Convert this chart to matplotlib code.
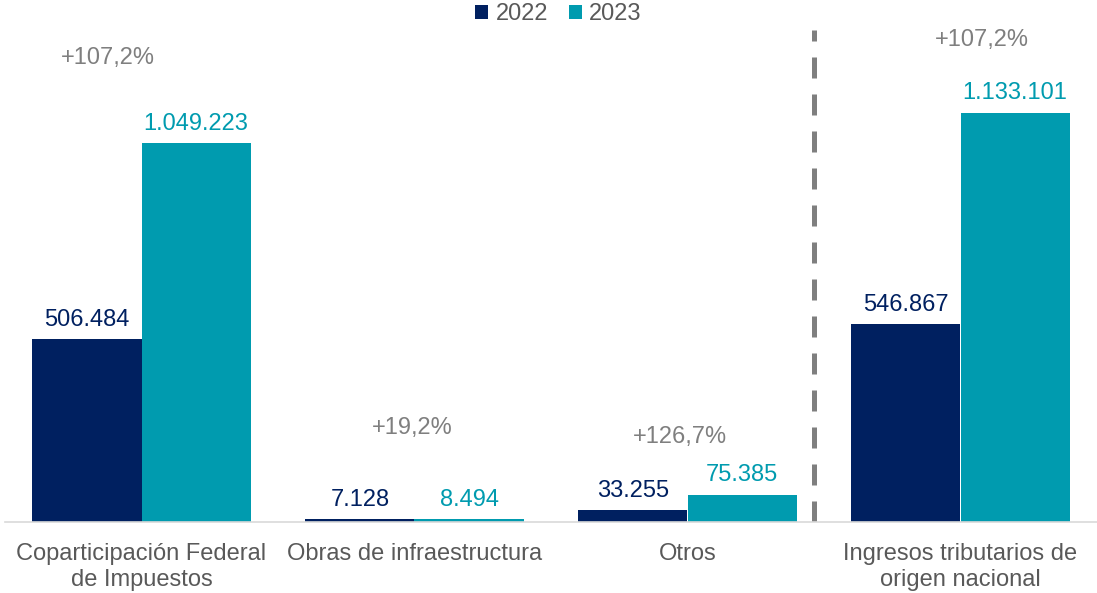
import numpy as np
import matplotlib.pyplot as plt

plt.rcParams['font.family'] = ['Liberation Sans', 'DejaVu Sans']

categories = ["Coparticipación Federal\nde Impuestos", "Obras de infraestructura",
              "Otros", "Ingresos tributarios de\norigen nacional"]
v2022 = [506484, 7128, 33255, 546867]
v2023 = [1049223, 8494, 75385, 1133101]
labels2022 = ["506.484", "7.128", "33.255", "546.867"]
labels2023 = ["1.049.223", "8.494", "75.385", "1.133.101"]
variations = ["+107,2%", "+19,2%", "+126,7%", "+107,2%"]

# where the variation labels sit (x offset from group centre, y in data units)
var_dx = [-0.125, -0.01, -0.026, 0.08]
var_y = [1284000, 260000, 235000, 1334000]

navy = "#002060"
teal = "#009BAF"
grey = "#7F7F7F"

fig = plt.figure(figsize=(10.97, 5.93), dpi=100)
ax = fig.add_axes([5 / 1097, 71 / 593, 1092 / 1097, 522 / 593])

x = np.arange(len(categories))
w = 0.4
b1 = ax.bar(x - w / 2, v2022, w, color=navy, label="2022")
b2 = ax.bar(x + w / 2, v2023, w, color=teal, label="2023")

for xi, v, t in zip(x, v2022, labels2022):
    ax.annotate(t, (xi - w / 2, v), xytext=(0, 6), textcoords="offset points",
                ha="center", va="bottom", fontsize=17, color=navy)
for xi, v, t in zip(x, v2023, labels2023):
    ax.annotate(t, (xi + w / 2, v), xytext=(0, 6), textcoords="offset points",
                ha="center", va="bottom", fontsize=17, color=teal)
for xi, dx, y, t in zip(x, var_dx, var_y, variations):
    ax.text(xi + dx, y, t, ha="center", va="center", fontsize=17, color=grey)

ax.plot([2.465, 2.465], [0, 1362000], color=grey, lw=3.6, dashes=(4.2, 3.2))

ax.set_xlim(-0.5, 3.5)
ax.set_ylim(0, 1445000)
ax.set_xticks(x)
ax.set_xticklabels(categories, fontsize=17, color="#595959", linespacing=1.25)
ax.tick_params(axis="x", length=0, pad=15)
ax.set_yticks([])
for s in ["top", "left", "right"]:
    ax.spines[s].set_visible(False)
ax.spines["bottom"].set_color("#D9D9D9")
ax.spines["bottom"].set_linewidth(1.2)

ax.legend(loc="upper center", bbox_to_anchor=(0.507, 1.035), ncol=2, frameon=False,
          fontsize=17, handlelength=0.55, handleheight=0.55, handletextpad=0.3,
          columnspacing=0.9, labelcolor="#595959")

fig.savefig("out.png", dpi=100)
